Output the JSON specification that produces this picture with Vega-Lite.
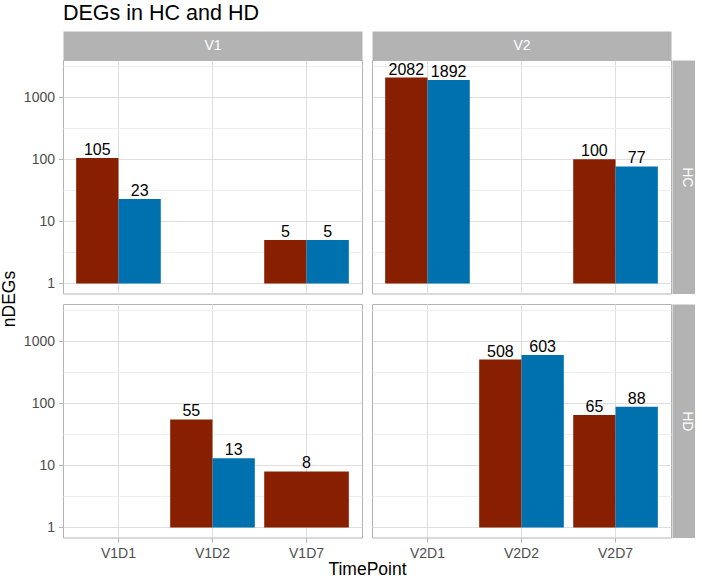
{
  "$schema": "https://vega.github.io/schema/vega-lite/v6.json",
  "padding": {"left": 0, "top": 2, "right": 1, "bottom": 0},
  "title": {"text": "DEGs in HC and HD", "anchor": "start", "frame": "group", "fontSize": 21.5, "fontWeight": "normal", "color": "black", "font": "Liberation Sans", "offset": 14},
  "data": {"values": [
    {"Visit": "V1", "Group": "HC", "TimePoint": "V1D1", "Direction": "Up", "nDEGs": 105},
    {"Visit": "V1", "Group": "HC", "TimePoint": "V1D1", "Direction": "Down", "nDEGs": 23},
    {"Visit": "V1", "Group": "HC", "TimePoint": "V1D7", "Direction": "Up", "nDEGs": 5},
    {"Visit": "V1", "Group": "HC", "TimePoint": "V1D7", "Direction": "Down", "nDEGs": 5},
    {"Visit": "V2", "Group": "HC", "TimePoint": "V2D1", "Direction": "Up", "nDEGs": 2082},
    {"Visit": "V2", "Group": "HC", "TimePoint": "V2D1", "Direction": "Down", "nDEGs": 1892},
    {"Visit": "V2", "Group": "HC", "TimePoint": "V2D7", "Direction": "Up", "nDEGs": 100},
    {"Visit": "V2", "Group": "HC", "TimePoint": "V2D7", "Direction": "Down", "nDEGs": 77},
    {"Visit": "V1", "Group": "HD", "TimePoint": "V1D2", "Direction": "Up", "nDEGs": 55},
    {"Visit": "V1", "Group": "HD", "TimePoint": "V1D2", "Direction": "Down", "nDEGs": 13},
    {"Visit": "V1", "Group": "HD", "TimePoint": "V1D7", "Direction": "Up", "nDEGs": 8},
    {"Visit": "V2", "Group": "HD", "TimePoint": "V2D2", "Direction": "Up", "nDEGs": 508},
    {"Visit": "V2", "Group": "HD", "TimePoint": "V2D2", "Direction": "Down", "nDEGs": 603},
    {"Visit": "V2", "Group": "HD", "TimePoint": "V2D7", "Direction": "Up", "nDEGs": 65},
    {"Visit": "V2", "Group": "HD", "TimePoint": "V2D7", "Direction": "Down", "nDEGs": 88}
  ]},
  "columns": 2,
  "spacing": 10,
  "bounds": "flush",
  "concat": [
    {
      "width": 299, "height": 233.5,
      "view": {"stroke": "#b3b3b3", "strokeWidth": 1},
      "transform": [
        {"filter": "datum.Visit === 'V1' && datum.Group === 'HC'"},
        {"joinaggregate": [{"op": "count", "as": "nBars"}], "groupby": ["TimePoint"]}
      ],
      "encoding": {
        "x": {"field": "TimePoint", "type": "nominal", "sort": null,
          "scale": {"domain": ["V1D1", "V1D2", "V1D7"], "paddingInner": 0.1, "paddingOuter": 0.14},
          "axis": {"orient": "top", "bandPosition": 0.5, "grid": true, "gridColor": "#dedede", "ticks": false, "labels": false, "domain": true, "domainColor": "#b3b3b3", "domainWidth": 29, "domainCap": "butt", "offset": 14.5, "title": "V1", "titleColor": "white", "titleFontSize": 14, "titleFontWeight": "normal", "titleBaseline": "middle", "titleAlign": "center", "titleAngle": 0, "titleX": 149.5, "titleY": 0}}
      },
      "layer": [
        {"transform": [{"filter": "datum.nBars > 1"}], "mark": {"type": "bar"},
          "encoding": {
            "xOffset": {"field": "Direction", "type": "nominal", "sort": null, "scale": {"domain": ["Up", "Down"], "paddingInner": 0, "paddingOuter": 0}},
            "y": {"field": "nDEGs", "type": "quantitative", "scale": {"type": "log", "domain": [0.69, 3990], "nice": false},
              "axis": {"orient": "left", "values": [1, 10, 100, 1000], "format": "d", "grid": true, "gridColor": "#dedede", "domain": false, "ticks": true, "tickColor": "#b3b3b3", "tickSize": 4.5, "labelPadding": 4, "labelFontSize": 14, "labelColor": "#4d4d4d", "labelFlush": false, "labelOverlap": false, "title": "nDEGs", "titleFontSize": 17.5, "titleFontWeight": "normal", "titleColor": "black", "titleX": -53.5, "titleY": 238.5, "titleBaseline": "middle", "titleAlign": "center", "titleAngle": 270}},
            "y2": {"datum": 1},
            "color": {"field": "Direction", "type": "nominal", "scale": {"domain": ["Up", "Down"], "range": ["#882000", "#0071af"]}, "legend": null}
          }},
        {"transform": [{"filter": "datum.nBars === 1"}], "mark": {"type": "bar"},
          "encoding": {
            "y": {"field": "nDEGs", "type": "quantitative", "scale": {"type": "log", "domain": [0.69, 3990], "nice": false}, "axis": null},
            "y2": {"datum": 1},
            "color": {"field": "Direction", "type": "nominal", "scale": {"domain": ["Up", "Down"], "range": ["#882000", "#0071af"]}, "legend": null}
          }},
        {"transform": [{"filter": "datum.nBars > 1"}], "mark": {"type": "text", "baseline": "alphabetic", "dy": -3, "fontSize": 16, "color": "black"},
          "encoding": {
            "xOffset": {"field": "Direction", "type": "nominal", "sort": null, "scale": {"domain": ["Up", "Down"], "paddingInner": 0, "paddingOuter": 0}},
            "y": {"field": "nDEGs", "type": "quantitative", "scale": {"type": "log", "domain": [0.69, 3990], "nice": false},
              "axis": {"orient": "right", "values": [3.1623, 31.623, 316.23, 3162.3], "grid": true, "gridColor": "#eeeeee", "domain": false, "ticks": false, "labels": false, "title": null}},
            "text": {"field": "nDEGs", "type": "quantitative", "format": "d"}
          }},
        {"transform": [{"filter": "datum.nBars === 1"}], "mark": {"type": "text", "baseline": "alphabetic", "dy": -3, "fontSize": 16, "color": "black"},
          "encoding": {
            "y": {"field": "nDEGs", "type": "quantitative", "scale": {"type": "log", "domain": [0.69, 3990], "nice": false}, "axis": null},
            "text": {"field": "nDEGs", "type": "quantitative", "format": "d"}
          }}
      ],
      "resolve": {"axis": {"y": "independent"}}
    },
    {
      "width": 299, "height": 233.5,
      "view": {"stroke": "#b3b3b3", "strokeWidth": 1},
      "transform": [
        {"filter": "datum.Visit === 'V2' && datum.Group === 'HC'"},
        {"joinaggregate": [{"op": "count", "as": "nBars"}], "groupby": ["TimePoint"]}
      ],
      "encoding": {
        "x": {"field": "TimePoint", "type": "nominal", "sort": null,
          "scale": {"domain": ["V2D1", "V2D2", "V2D7"], "paddingInner": 0.1, "paddingOuter": 0.14},
          "axis": {"orient": "top", "bandPosition": 0.5, "grid": true, "gridColor": "#dedede", "ticks": false, "labels": false, "domain": true, "domainColor": "#b3b3b3", "domainWidth": 29, "domainCap": "butt", "offset": 14.5, "title": "V2", "titleColor": "white", "titleFontSize": 14, "titleFontWeight": "normal", "titleBaseline": "middle", "titleAlign": "center", "titleAngle": 0, "titleX": 149.5, "titleY": 0}}
      },
      "layer": [
        {"transform": [{"filter": "datum.nBars > 1"}], "mark": {"type": "bar"},
          "encoding": {
            "xOffset": {"field": "Direction", "type": "nominal", "sort": null, "scale": {"domain": ["Up", "Down"], "paddingInner": 0, "paddingOuter": 0}},
            "y": {"field": "nDEGs", "type": "quantitative", "scale": {"type": "log", "domain": [0.69, 3990], "nice": false},
              "axis": {"orient": "left", "values": [1, 10, 100, 1000], "grid": true, "gridColor": "#dedede", "domain": false, "ticks": false, "labels": false, "title": null}},
            "y2": {"datum": 1},
            "color": {"field": "Direction", "type": "nominal", "scale": {"domain": ["Up", "Down"], "range": ["#882000", "#0071af"]}, "legend": null}
          }},
        {"transform": [{"filter": "datum.nBars === 1"}], "mark": {"type": "bar"},
          "encoding": {
            "y": {"field": "nDEGs", "type": "quantitative", "scale": {"type": "log", "domain": [0.69, 3990], "nice": false}, "axis": null},
            "y2": {"datum": 1},
            "color": {"field": "Direction", "type": "nominal", "scale": {"domain": ["Up", "Down"], "range": ["#882000", "#0071af"]}, "legend": null}
          }},
        {"transform": [{"filter": "datum.nBars > 1"}], "mark": {"type": "text", "baseline": "alphabetic", "dy": -3, "fontSize": 16, "color": "black"},
          "encoding": {
            "xOffset": {"field": "Direction", "type": "nominal", "sort": null, "scale": {"domain": ["Up", "Down"], "paddingInner": 0, "paddingOuter": 0}},
            "y": {"field": "nDEGs", "type": "quantitative", "scale": {"type": "log", "domain": [0.69, 3990], "nice": false},
              "axis": {"orient": "right", "values": [3.1623, 31.623, 316.23, 3162.3], "grid": true, "gridColor": "#eeeeee", "ticks": false, "labels": false, "domain": true, "domainColor": "#b3b3b3", "domainWidth": 28, "domainCap": "butt", "offset": 15, "title": "HC", "titleColor": "white", "titleFontSize": 14, "titleFontWeight": "normal", "titleAngle": 90, "titleBaseline": "middle", "titleAlign": "center", "titleX": 0, "titleY": 116.75}},
            "text": {"field": "nDEGs", "type": "quantitative", "format": "d"}
          }},
        {"transform": [{"filter": "datum.nBars === 1"}], "mark": {"type": "text", "baseline": "alphabetic", "dy": -3, "fontSize": 16, "color": "black"},
          "encoding": {
            "y": {"field": "nDEGs", "type": "quantitative", "scale": {"type": "log", "domain": [0.69, 3990], "nice": false}, "axis": null},
            "text": {"field": "nDEGs", "type": "quantitative", "format": "d"}
          }}
      ],
      "resolve": {"axis": {"y": "independent"}}
    },
    {
      "width": 299, "height": 233.5,
      "view": {"stroke": "#b3b3b3", "strokeWidth": 1},
      "transform": [
        {"filter": "datum.Visit === 'V1' && datum.Group === 'HD'"},
        {"joinaggregate": [{"op": "count", "as": "nBars"}], "groupby": ["TimePoint"]}
      ],
      "encoding": {
        "x": {"field": "TimePoint", "type": "nominal", "sort": null,
          "scale": {"domain": ["V1D1", "V1D2", "V1D7"], "paddingInner": 0.1, "paddingOuter": 0.14},
          "axis": {"orient": "bottom", "bandPosition": 0.5, "grid": true, "gridColor": "#dedede", "domain": false, "ticks": true, "tickColor": "#b3b3b3", "tickSize": 4.5, "labelPadding": 4, "labelFontSize": 14, "labelColor": "#4d4d4d", "labelAngle": 0, "title": "TimePoint", "titleFontSize": 17.5, "titleFontWeight": "normal", "titleColor": "black", "titleX": 304, "titleY": 37, "titleBaseline": "alphabetic", "titleAlign": "center"}}
      },
      "layer": [
        {"transform": [{"filter": "datum.nBars > 1"}], "mark": {"type": "bar"},
          "encoding": {
            "xOffset": {"field": "Direction", "type": "nominal", "sort": null, "scale": {"domain": ["Up", "Down"], "paddingInner": 0, "paddingOuter": 0}},
            "y": {"field": "nDEGs", "type": "quantitative", "scale": {"type": "log", "domain": [0.69, 3990], "nice": false},
              "axis": {"orient": "left", "values": [1, 10, 100, 1000], "format": "d", "grid": true, "gridColor": "#dedede", "domain": false, "ticks": true, "tickColor": "#b3b3b3", "tickSize": 4.5, "labelPadding": 4, "labelFontSize": 14, "labelColor": "#4d4d4d", "labelFlush": false, "labelOverlap": false, "title": null}},
            "y2": {"datum": 1},
            "color": {"field": "Direction", "type": "nominal", "scale": {"domain": ["Up", "Down"], "range": ["#882000", "#0071af"]}, "legend": null}
          }},
        {"transform": [{"filter": "datum.nBars === 1"}], "mark": {"type": "bar"},
          "encoding": {
            "y": {"field": "nDEGs", "type": "quantitative", "scale": {"type": "log", "domain": [0.69, 3990], "nice": false}, "axis": null},
            "y2": {"datum": 1},
            "color": {"field": "Direction", "type": "nominal", "scale": {"domain": ["Up", "Down"], "range": ["#882000", "#0071af"]}, "legend": null}
          }},
        {"transform": [{"filter": "datum.nBars > 1"}], "mark": {"type": "text", "baseline": "alphabetic", "dy": -3, "fontSize": 16, "color": "black"},
          "encoding": {
            "xOffset": {"field": "Direction", "type": "nominal", "sort": null, "scale": {"domain": ["Up", "Down"], "paddingInner": 0, "paddingOuter": 0}},
            "y": {"field": "nDEGs", "type": "quantitative", "scale": {"type": "log", "domain": [0.69, 3990], "nice": false},
              "axis": {"orient": "right", "values": [3.1623, 31.623, 316.23, 3162.3], "grid": true, "gridColor": "#eeeeee", "domain": false, "ticks": false, "labels": false, "title": null}},
            "text": {"field": "nDEGs", "type": "quantitative", "format": "d"}
          }},
        {"transform": [{"filter": "datum.nBars === 1"}], "mark": {"type": "text", "baseline": "alphabetic", "dy": -3, "fontSize": 16, "color": "black"},
          "encoding": {
            "y": {"field": "nDEGs", "type": "quantitative", "scale": {"type": "log", "domain": [0.69, 3990], "nice": false}, "axis": null},
            "text": {"field": "nDEGs", "type": "quantitative", "format": "d"}
          }}
      ],
      "resolve": {"axis": {"y": "independent"}}
    },
    {
      "width": 299, "height": 233.5,
      "view": {"stroke": "#b3b3b3", "strokeWidth": 1},
      "transform": [
        {"filter": "datum.Visit === 'V2' && datum.Group === 'HD'"},
        {"joinaggregate": [{"op": "count", "as": "nBars"}], "groupby": ["TimePoint"]}
      ],
      "encoding": {
        "x": {"field": "TimePoint", "type": "nominal", "sort": null,
          "scale": {"domain": ["V2D1", "V2D2", "V2D7"], "paddingInner": 0.1, "paddingOuter": 0.14},
          "axis": {"orient": "bottom", "bandPosition": 0.5, "grid": true, "gridColor": "#dedede", "domain": false, "ticks": true, "tickColor": "#b3b3b3", "tickSize": 4.5, "labelPadding": 4, "labelFontSize": 14, "labelColor": "#4d4d4d", "labelAngle": 0, "title": null}}
      },
      "layer": [
        {"transform": [{"filter": "datum.nBars > 1"}], "mark": {"type": "bar"},
          "encoding": {
            "xOffset": {"field": "Direction", "type": "nominal", "sort": null, "scale": {"domain": ["Up", "Down"], "paddingInner": 0, "paddingOuter": 0}},
            "y": {"field": "nDEGs", "type": "quantitative", "scale": {"type": "log", "domain": [0.69, 3990], "nice": false},
              "axis": {"orient": "left", "values": [1, 10, 100, 1000], "grid": true, "gridColor": "#dedede", "domain": false, "ticks": false, "labels": false, "title": null}},
            "y2": {"datum": 1},
            "color": {"field": "Direction", "type": "nominal", "scale": {"domain": ["Up", "Down"], "range": ["#882000", "#0071af"]}, "legend": null}
          }},
        {"transform": [{"filter": "datum.nBars === 1"}], "mark": {"type": "bar"},
          "encoding": {
            "y": {"field": "nDEGs", "type": "quantitative", "scale": {"type": "log", "domain": [0.69, 3990], "nice": false}, "axis": null},
            "y2": {"datum": 1},
            "color": {"field": "Direction", "type": "nominal", "scale": {"domain": ["Up", "Down"], "range": ["#882000", "#0071af"]}, "legend": null}
          }},
        {"transform": [{"filter": "datum.nBars > 1"}], "mark": {"type": "text", "baseline": "alphabetic", "dy": -3, "fontSize": 16, "color": "black"},
          "encoding": {
            "xOffset": {"field": "Direction", "type": "nominal", "sort": null, "scale": {"domain": ["Up", "Down"], "paddingInner": 0, "paddingOuter": 0}},
            "y": {"field": "nDEGs", "type": "quantitative", "scale": {"type": "log", "domain": [0.69, 3990], "nice": false},
              "axis": {"orient": "right", "values": [3.1623, 31.623, 316.23, 3162.3], "grid": true, "gridColor": "#eeeeee", "ticks": false, "labels": false, "domain": true, "domainColor": "#b3b3b3", "domainWidth": 28, "domainCap": "butt", "offset": 15, "title": "HD", "titleColor": "white", "titleFontSize": 14, "titleFontWeight": "normal", "titleAngle": 90, "titleBaseline": "middle", "titleAlign": "center", "titleX": 0, "titleY": 116.75}},
            "text": {"field": "nDEGs", "type": "quantitative", "format": "d"}
          }},
        {"transform": [{"filter": "datum.nBars === 1"}], "mark": {"type": "text", "baseline": "alphabetic", "dy": -3, "fontSize": 16, "color": "black"},
          "encoding": {
            "y": {"field": "nDEGs", "type": "quantitative", "scale": {"type": "log", "domain": [0.69, 3990], "nice": false}, "axis": null},
            "text": {"field": "nDEGs", "type": "quantitative", "format": "d"}
          }}
      ],
      "resolve": {"axis": {"y": "independent"}}
    }
  ],
  "config": {
    "font": "Liberation Sans",
    "axis": {"labelFont": "Liberation Sans", "titleFont": "Liberation Sans"},
    "text": {"font": "Liberation Sans"}
  }
}
